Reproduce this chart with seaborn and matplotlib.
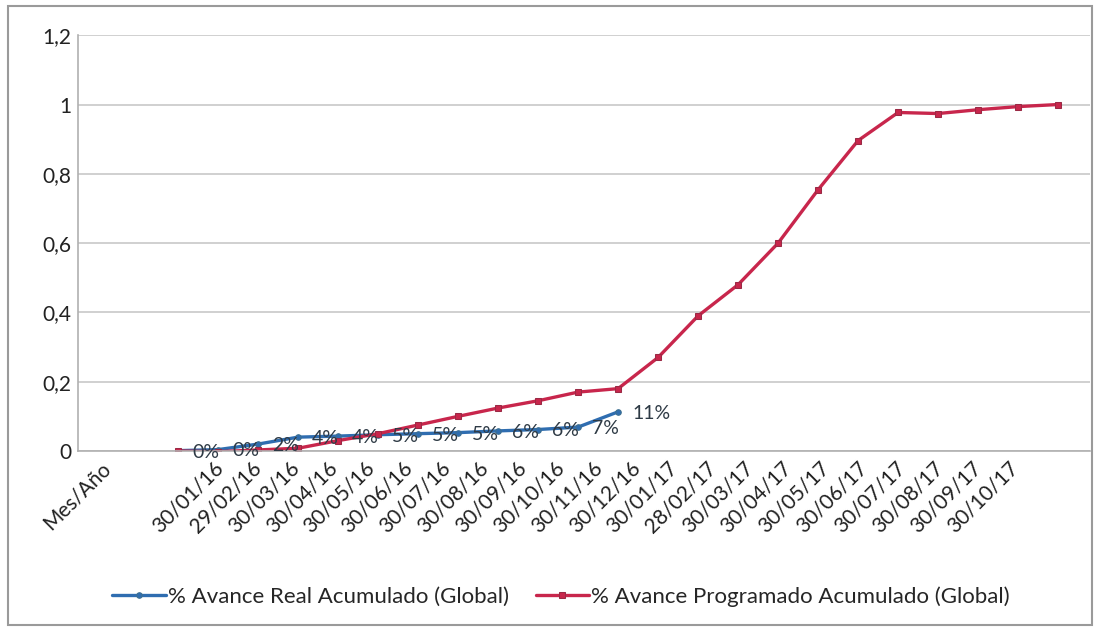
import numpy as np
import pandas as pd
import matplotlib
matplotlib.use("Agg")
import matplotlib.pyplot as plt
import seaborn as sns
from matplotlib.patches import Rectangle

# categories shown on the x axis
categories = ["Mes/Año", "30/01/16", "29/02/16", "30/03/16", "30/04/16", "30/05/16",
              "30/06/16", "30/07/16", "30/08/16", "30/09/16", "30/10/16", "30/11/16",
              "30/12/16", "30/01/17", "28/02/17", "30/03/17", "30/04/17", "30/05/17",
              "30/06/17", "30/07/17", "30/08/17", "30/09/17", "30/10/17"]

# % Avance Programado Acumulado (Global) - 23 points
programado = [0.0, -0.002, 0.003, 0.008, 0.03, 0.05, 0.075, 0.10, 0.124, 0.145, 0.17, 0.18,
              0.27, 0.39, 0.48, 0.60, 0.754, 0.896, 0.977, 0.974, 0.985, 0.994, 1.0]

# % Avance Real Acumulado (Global) - first 12 points
real = [0.001, 0.004, 0.02, 0.04, 0.043, 0.047, 0.05, 0.053, 0.058, 0.062, 0.069, 0.113]
real_labels = ["0%", "0%", "2%", "4%", "4%", "5%", "5%", "5%", "6%", "6%", "7%", "11%"]

name_real = "% Avance Real Acumulado (Global)"
name_prog = "% Avance Programado Acumulado (Global)"

df_prog = pd.DataFrame({"x": np.arange(len(programado)), "y": programado})
df_real = pd.DataFrame({"x": np.arange(len(real)), "y": real})

sns.set_style("white")
plt.rcParams["font.family"] = ["Lato", "DejaVu Sans"]

fig = plt.figure(figsize=(11, 6.29), dpi=100)
ax = fig.add_axes([0.071, 0.283, 0.92, 0.661])

blue = "#2f6db0"
red = "#c8264c"

sns.lineplot(data=df_real, x="x", y="y", ax=ax, color=blue, linewidth=2.4,
             marker="o", markersize=4, markeredgecolor="#3d6f8f", label=name_real)
sns.lineplot(data=df_prog, x="x", y="y", ax=ax, color=red, linewidth=2.4,
             marker="s", markersize=4, markeredgecolor="#9a2a45", label=name_prog)

# data labels for the real series
for i, (v, t) in enumerate(zip(real, real_labels)):
    ax.annotate(t, (i, v), xytext=(10, -1), textcoords="offset points",
                ha="left", va="center", fontsize=14, color="#2e3a45")

ax.set_xlim(-2.5, 22.8)
ax.set_ylim(0, 1.2)
ax.set_yticks([0, 0.2, 0.4, 0.6, 0.8, 1.0, 1.2])
ax.set_yticklabels(["0", "0,2", "0,4", "0,6", "0,8", "1", "1,2"], fontsize=15, color="#222222")
ax.yaxis.grid(True, color="#c8c8c8", linewidth=1.2)

# tick label positions follow the original chart's spacing
tick_pos = [-1.95] + list(np.linspace(0.875, 0.875 + 0.947 * 21, 22))
ax.set_xticks(tick_pos)
ax.set_xticklabels(categories, rotation=45, ha="right", rotation_mode="anchor",
                   fontsize=15, color="#222222")
ax.tick_params(axis="both", length=0, pad=5)
ax.set_xlabel("")
ax.set_ylabel("")

for s in ["top", "right"]:
    ax.spines[s].set_visible(False)
for s in ["left", "bottom"]:
    ax.spines[s].set_color("#b0b0b0")
    ax.spines[s].set_linewidth(1.2)

leg = ax.legend(loc="center", bbox_to_anchor=(0.51, 0.051), bbox_transform=fig.transFigure,
                ncol=2, frameon=False, fontsize=16, handlelength=2.4, handletextpad=0.1,
                columnspacing=1.2)

fig.add_artist(Rectangle((0.007, 0.006), 0.986, 0.984, transform=fig.transFigure,
                         fill=False, edgecolor="#9a9a9a", linewidth=1.5))

fig.savefig("out.png", dpi=100)
